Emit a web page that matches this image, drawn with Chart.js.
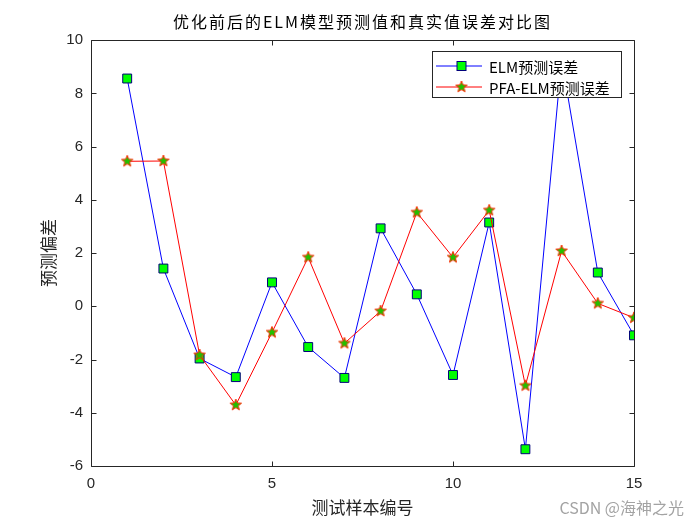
<!DOCTYPE html>
<html>
<head>
<meta charset="utf-8">
<script src="https://cdn.jsdelivr.net/npm/chart.js@4/dist/chart.umd.min.js"></script>
<style>
html,body{margin:0;padding:0;background:#fff;}
canvas{display:block;}
</style>
</head>
<body>
<canvas id="c" width="700" height="525"></canvas>
<script>
// ---- data ----
const sampleIds = [1, 2, 3, 4, 5, 6, 7, 8, 9, 10, 11, 12, 13, 14, 15];
const elmError = [8.56, 1.42, -1.96, -2.66, 0.90, -1.53, -2.69, 2.93, 0.45, -2.58, 3.15, -5.37, 9.28, 1.27, -1.09];
const pfaElmError = [5.45, 5.46, -1.83, -3.71, -0.98, 1.84, -1.39, -0.18, 3.53, 1.84, 3.61, -2.98, 2.08, 0.11, -0.43];
const xTicks = [0, 5, 10, 15];
const yTicks = [-6, -4, -2, 0, 2, 4, 6, 8, 10];
const seriesNames = ['ELM预测误差', 'PFA-ELM预测误差'];
const chartTitle = '优化前后的ELM模型预测值和真实值误差对比图';
const xTitle = '测试样本编号';
const yTitle = '预测偏差';
const watermark = 'CSDN @海神之光';

// ---- styles ----
const CJK = "'Noto Sans CJK SC', 'Noto Sans', sans-serif";
const LATIN = "'Liberation Sans', Arial, sans-serif";
const AXIS = '#262626';

function makeStar(rOut, rIn, fill, stroke) {
  const size = Math.ceil(rOut * 2 + 4);
  const c = document.createElement('canvas');
  c.width = size; c.height = size;
  const g = c.getContext('2d');
  const cx = size / 2, cy = size / 2;
  g.beginPath();
  for (let i = 0; i < 10; i++) {
    const r = i % 2 ? rIn : rOut;
    const a = -Math.PI / 2 + i * Math.PI / 5;
    g.lineTo(cx + r * Math.cos(a), cy + r * Math.sin(a));
  }
  g.closePath();
  g.fillStyle = fill; g.fill();
  g.lineWidth = 1; g.strokeStyle = stroke; g.stroke();
  return c;
}
const starImg = makeStar(6, 2.6, '#22c000', '#ff2a00');

const elmPoints = sampleIds.map((x, i) => ({x: x, y: elmError[i]}));
const pfaPoints = sampleIds.map((x, i) => ({x: x, y: pfaElmError[i]}));

const matlabLook = {
  id: 'matlabLook',
  beforeDraw(chart) {
    const tb = chart.titleBlock;
    if (tb && !tb._lsPatched) {
      const orig = tb.draw;
      tb.draw = function () {
        const ctx = this.ctx;
        ctx.save();
        try { ctx.letterSpacing = '2px'; } catch (e) {}
        orig.apply(this, arguments);
        ctx.restore();
      };
      tb._lsPatched = true;
    }
  },
  afterDraw(chart) {
    const ctx = chart.ctx;
    const a = chart.chartArea;
    const xs = chart.scales.x, ys = chart.scales.y;
    ctx.save();
    // axes box
    ctx.strokeStyle = AXIS;
    ctx.lineWidth = 1;
    const L = Math.round(a.left) + 0.5, R = Math.round(a.right) + 0.5;
    const T = Math.round(a.top) + 0.5, B = Math.round(a.bottom) + 0.5;
    ctx.beginPath();
    ctx.rect(L, T, R - L, B - T);
    ctx.stroke();
    // inward ticks
    const tl = 5;
    ctx.beginPath();
    xTicks.forEach(v => {
      const px = Math.round(xs.getPixelForValue(v)) + 0.5;
      ctx.moveTo(px, B); ctx.lineTo(px, B - tl);
      ctx.moveTo(px, T); ctx.lineTo(px, T + tl);
    });
    yTicks.forEach(v => {
      const py = Math.round(ys.getPixelForValue(v)) + 0.5;
      ctx.moveTo(L, py); ctx.lineTo(L + tl, py);
      ctx.moveTo(R, py); ctx.lineTo(R - tl, py);
    });
    ctx.stroke();

    // legend
    const bx = 432.5, by = 51.5, bw = 189, bh = 46;
    ctx.fillStyle = '#fff';
    ctx.fillRect(bx, by, bw, bh);
    ctx.strokeStyle = AXIS;
    ctx.strokeRect(bx, by, bw, bh);
    const rows = [by + 14.5, by + 35.5];
    const ds = chart.data.datasets;
    rows.forEach((ry, i) => {
      const d = ds[i];
      ctx.strokeStyle = d.borderColor;
      ctx.lineWidth = 1;
      ctx.beginPath();
      ctx.moveTo(436, ry); ctx.lineTo(482, ry);
      ctx.stroke();
      const mx = 461.5;
      if (i === 0) {
        ctx.fillStyle = d.pointBackgroundColor;
        ctx.strokeStyle = d.pointBorderColor;
        ctx.fillRect(mx - 4.5, ry - 4.5, 9, 9);
        ctx.strokeRect(mx - 4.5, ry - 4.5, 9, 9);
      } else {
        ctx.drawImage(starImg, mx - starImg.width / 2, ry - starImg.height / 2);
      }
      ctx.fillStyle = '#000';
      ctx.font = '15px ' + CJK;
      ctx.textBaseline = 'middle';
      ctx.textAlign = 'left';
      ctx.fillText(d.label, 489, ry + 1);
    });

    // watermark
    ctx.font = '16px ' + CJK;
    ctx.fillStyle = '#a3a3a3';
    ctx.textAlign = 'right';
    ctx.textBaseline = 'middle';
    ctx.fillText(watermark, 684, 508);
    ctx.restore();
  }
};

new Chart(document.getElementById('c'), {
  type: 'line',
  data: {
    datasets: [
      {
        label: seriesNames[0],
        data: elmPoints,
        borderColor: '#0000ff',
        borderWidth: 1,
        pointStyle: 'rect',
        pointRadius: 6.3,
        pointBorderWidth: 1,
        pointBackgroundColor: '#00ff00',
        pointBorderColor: '#00007a',
        tension: 0,
        fill: false,
        order: 2
      },
      {
        label: seriesNames[1],
        data: pfaPoints,
        borderColor: '#ff0000',
        borderWidth: 1,
        pointStyle: starImg,
        pointRadius: 6,
        tension: 0,
        fill: false,
        order: 1
      }
    ]
  },
  options: {
    responsive: false,
    animation: false,
    devicePixelRatio: 1,
    layout: {padding: {top: 0, right: 66, bottom: 0, left: 0}},
    plugins: {
      legend: {display: false},
      tooltip: {enabled: false},
      title: {
        display: true,
        text: chartTitle,
        fullSize: false,
        color: '#000',
        font: {family: CJK, size: 16, weight: 'normal'},
        padding: {top: 12, bottom: 9}
      }
    },
    scales: {
      x: {
        type: 'linear',
        min: 0, max: 15,
        afterBuildTicks: s => { s.ticks = xTicks.map(v => ({value: v})); },
        afterFit: s => { s.height = 59; },
        grid: {display: false, drawTicks: false},
        border: {display: false},
        ticks: {color: AXIS, font: {family: LATIN, size: 15}, padding: 9, maxRotation: 0, autoSkip: false},
        title: {display: true, text: xTitle, color: AXIS, font: {family: CJK, size: 17}, padding: {top: 0, bottom: 7}}
      },
      y: {
        type: 'linear',
        min: -6, max: 10,
        afterBuildTicks: s => { s.ticks = yTicks.map(v => ({value: v})); },
        afterFit: s => { s.width = 91; },
        grid: {display: false, drawTicks: false},
        border: {display: false},
        ticks: {color: AXIS, font: {family: LATIN, size: 15}, padding: 8, autoSkip: false},
        title: {display: true, text: yTitle, color: AXIS, font: {family: CJK, size: 17}, padding: {top: 38, bottom: 0}}
      }
    }
  },
  plugins: [matlabLook]
});
</script>
</body>
</html>
